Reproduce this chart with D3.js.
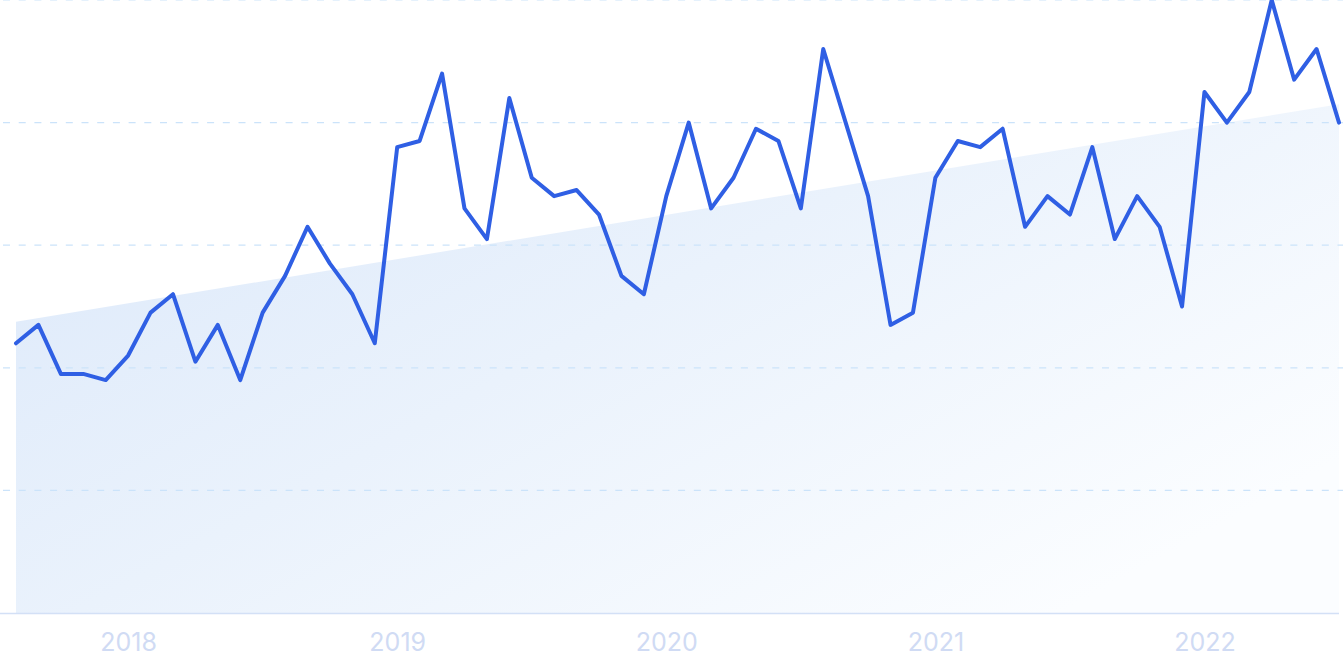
<!DOCTYPE html>
<html>
<head>
<meta charset="utf-8">
<script src="https://cdn.jsdelivr.net/npm/d3@7"></script>
<style>
  html, body { margin: 0; padding: 0; background: #ffffff; }
  svg { display: block; }
</style>
</head>
<body>
<svg id="chart" width="1343" height="671"></svg>
<script>
// Months from Aug 2017 to Jul 2022
const months = [
  "2017-08","2017-09","2017-10","2017-11","2017-12",
  "2018-01","2018-02","2018-03","2018-04","2018-05","2018-06","2018-07","2018-08","2018-09","2018-10","2018-11","2018-12",
  "2019-01","2019-02","2019-03","2019-04","2019-05","2019-06","2019-07","2019-08","2019-09","2019-10","2019-11","2019-12",
  "2020-01","2020-02","2020-03","2020-04","2020-05","2020-06","2020-07","2020-08","2020-09","2020-10","2020-11","2020-12",
  "2021-01","2021-02","2021-03","2021-04","2021-05","2021-06","2021-07","2021-08","2021-09","2021-10","2021-11","2021-12",
  "2022-01","2022-02","2022-03","2022-04","2022-05","2022-06","2022-07"
];
const values = [
  44,47,39,39,38,
  42,49,52,41,47,38,49,55,63,57,52,44,
  76,77,88,66,61,84,71,68,69,65,55,52,
  68,80,66,71,79,77,66,92,80,68,47,49,
  71,77,76,79,63,68,65,76,61,68,63,50,
  85,80,85,100,87,92,80
];
// Trend line values at first and last month
const trendMonths = ["2017-08", "2022-07"];
const trendValues = [47.5, 83];
// Axis tick labels
const tickMonths = ["2018-01","2019-01","2020-01","2021-01","2022-01"];
const tickLabels = ["2018","2019","2020","2021","2022"];
const gridValues = [20, 40, 60, 80, 100];

const svg = d3.select("#chart");
const W = 1343, H = 671;
const mLeft = 16, mRight = 1339, mTop = 0, mBottom = 613;

const x = d3.scalePoint().domain(months).range([mLeft, mRight]);
const y = d3.scaleLinear().domain([0, 100]).range([mBottom, mTop]);

const defs = svg.append("defs");
const grad = defs.append("linearGradient")
  .attr("id", "trendGrad")
  .attr("x1", "0").attr("y1", "0").attr("x2", "1").attr("y2", "0.7");
grad.append("stop").attr("offset", "0%").attr("stop-color", "#dbe8fa");
grad.append("stop").attr("offset", "50%").attr("stop-color", "#eaf2fc");
grad.append("stop").attr("offset", "100%").attr("stop-color", "#fbfdff");

// Trend area
const trendData = trendMonths.map((m, i) => ({ m, v: trendValues[i] }));
const area = d3.area()
  .x(d => x(d.m))
  .y0(y(0))
  .y1(d => y(d.v));
svg.append("path")
  .datum(trendData)
  .attr("d", area)
  .attr("fill", "url(#trendGrad)");

// Gridlines
svg.append("g")
  .selectAll("line")
  .data(gridValues)
  .join("line")
  .attr("x1", 3).attr("x2", W)
  .attr("y1", d => y(d)).attr("y2", d => y(d))
  .attr("stroke", "#cbe3fa")
  .attr("stroke-width", 1.2)
  .attr("stroke-dasharray", "7,8.7");

// X axis
const xAxis = d3.axisBottom(x)
  .tickValues(tickMonths)
  .tickFormat(d => tickLabels[tickMonths.indexOf(d)])
  .tickSize(0)
  .tickPadding(20);
const gx = svg.append("g")
  .attr("transform", `translate(0,${mBottom})`)
  .call(xAxis);
gx.select(".domain").remove();
gx.append("line")
  .attr("x1", 0).attr("x2", mRight)
  .attr("y1", 0.5).attr("y2", 0.5)
  .attr("stroke", "#d3e0f6")
  .attr("stroke-width", 1.5);
gx.selectAll(".tick text")
  .attr("fill", "#d0dbf4")
  .attr("font-family", "Inter, 'Noto Sans', sans-serif")
  .attr("font-size", 25);

// Data line
const line = d3.line()
  .x((d, i) => x(months[i]))
  .y(d => y(d));
svg.append("path")
  .datum(values)
  .attr("d", line)
  .attr("fill", "none")
  .attr("stroke", "#2f5fe4")
  .attr("stroke-width", 4)
  .attr("stroke-linejoin", "round")
  .attr("stroke-linecap", "round");
</script>
</body>
</html>
